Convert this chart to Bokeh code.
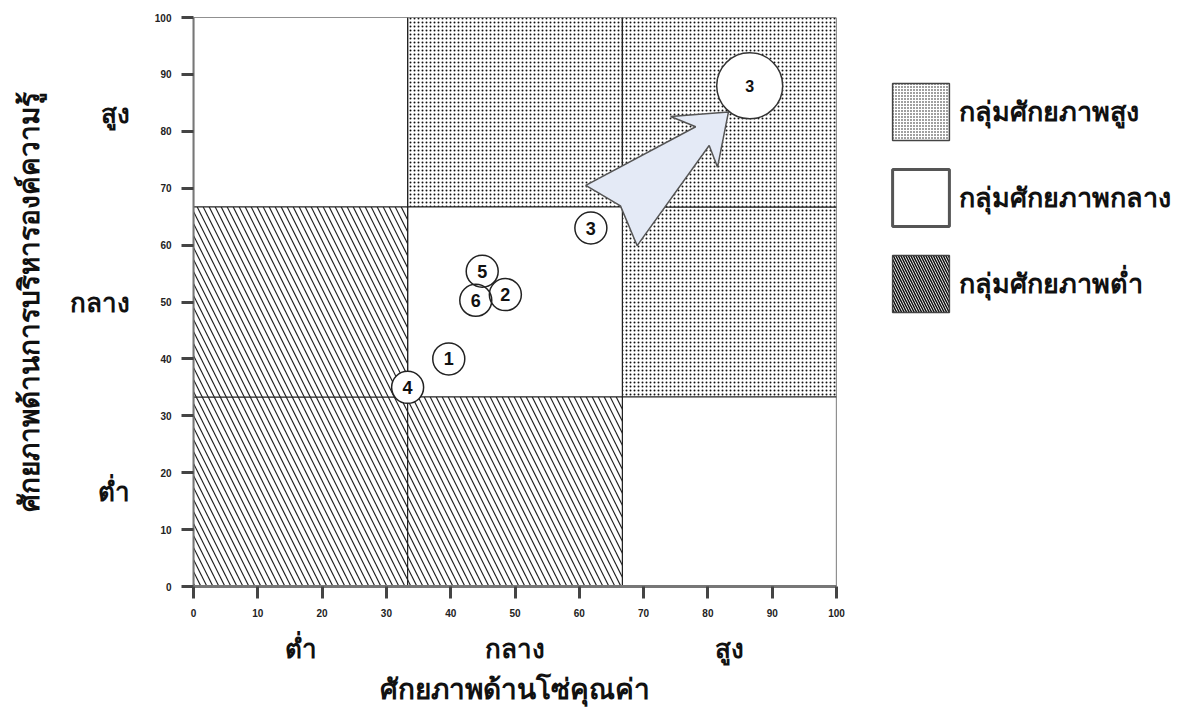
from bokeh.plotting import figure
from bokeh.layouts import row
from bokeh.models import LinearAxis, FixedTicker, Legend, LegendItem, ColumnDataSource, Range1d
from bokeh.embed import file_html
from bokeh.resources import INLINE
from bokeh.core.properties import value

# ---------------- data ----------------
# boundaries of the three levels on each axis
edges = [0, 33.3, 66.7, 100]
# level of each cell, row by row from the bottom (y) and left to right (x)
cell_levels = [
    ["low", "low", "medium"],
    ["low", "medium", "high"],
    ["medium", "high", "high"],
]
level_names = ["high", "medium", "low"]
legend_labels = ["กลุ่มศักยภาพสูง", "กลุ่มศักยภาพกลาง", "กลุ่มศักยภาพต่ำ"]

# numbered items (value-chain potential, knowledge-management potential)
point_labels = ["1", "2", "3", "4", "5", "6"]
point_x = [39.7, 48.5, 61.8, 33.3, 44.9, 43.9]
point_y = [40.0, 51.3, 63.0, 35.0, 55.4, 50.3]

# projected position of item 3
target_labels = ["3"]
target_x = [86.5]
target_y = [88.0]

# arrow outline (data coordinates)
arrow_x = [61.0, 78.1, 74.2, 83.2, 81.5, 80.2, 69.0, 66.4]
arrow_y = [70.5, 80.8, 82.6, 83.4, 73.7, 77.5, 59.9, 66.9]

tick_values = [0, 10, 20, 30, 40, 50, 60, 70, 80, 90, 100]
level_ticks = [16.7, 50, 83.3]
level_tick_labels = ["ต่ำ", "กลาง", "สูง"]

x_title = "ศักยภาพด้านโซ่คุณค่า"
y_title = "ศักยภาพด้านการบริหารองค์ความรู้"

THAI = "Noto Sans"

# ---------------- main figure ----------------
p = figure(frame_width=643, frame_height=569, x_range=Range1d(0, 100), y_range=Range1d(0, 100),
           output_backend="svg", toolbar_location=None,
           min_border_left=193, min_border_top=17, min_border_bottom=111, min_border_right=20)
p.grid.visible = False
p.outline_line_color = None
p.background_fill_color = "white"

# cells grouped by level
cells = {k: dict(left=[], right=[], bottom=[], top=[]) for k in level_names}
for r, row_levels in enumerate(cell_levels):
    for c, lev in enumerate(row_levels):
        cells[lev]["left"].append(edges[c])
        cells[lev]["right"].append(edges[c + 1])
        cells[lev]["bottom"].append(edges[r])
        cells[lev]["top"].append(edges[r + 1])
sources = {lev: ColumnDataSource(cells[lev]) for lev in level_names}

styles = {
    "high": dict(fill_color="white", hatch_pattern="dot", hatch_scale=4, hatch_weight=1,
                 hatch_color="#111", line_color="#222", line_width=1.2),
    "medium": dict(fill_color="white", line_color="#222", line_width=1.2),
    "low": dict(fill_color="white", hatch_pattern="left_diagonal_line", hatch_scale=12,
                hatch_weight=1.2, hatch_color="#222", line_color="#222", line_width=1.2),
}
for lev in level_names:
    p.quad(source=sources[lev], left="left", right="right", bottom="bottom", top="top",
           **styles[lev])

# arrow
p.patch(arrow_x, arrow_y, fill_color="#e4eaf6", line_color="#555", line_width=1.5)

# circles: fills first, then outlines so overlapping outlines stay visible
pts = ColumnDataSource(dict(x=point_x, y=point_y, label=point_labels))
tgt = ColumnDataSource(dict(x=target_x, y=target_y, label=target_labels))
p.scatter("x", "y", source=pts, size=32, fill_color="white", line_color=None)
p.scatter("x", "y", source=tgt, size=66, fill_color="white", line_color=None)
p.scatter("x", "y", source=pts, size=32, fill_color=None, line_color="#222", line_width=1.5)
p.scatter("x", "y", source=tgt, size=66, fill_color=None, line_color="#333", line_width=1.5)
p.text("x", "y", text="label", source=pts, text_align="center", text_baseline="middle",
       text_font=value("Liberation Sans"), text_font_size="18px", text_font_style="bold",
       text_color="#111")
p.text("x", "y", text="label", source=tgt, text_align="center", text_baseline="middle",
       text_font=value("Liberation Sans"), text_font_size="16px", text_font_style="bold",
       text_color="#111")

# numeric axes
for ax in (p.xaxis[0], p.yaxis[0]):
    ax.ticker = FixedTicker(ticks=tick_values)
    ax.axis_line_color = "#777"
    ax.axis_line_width = 3
    ax.major_tick_line_color = "#444"
    ax.major_tick_line_width = 3
    ax.major_tick_out = 12
    ax.major_tick_in = 0
    ax.minor_tick_line_color = None
    ax.major_label_text_font = "Liberation Sans"
    ax.major_label_text_font_size = "10px"
    ax.major_label_text_font_style = "bold"
    ax.major_label_text_color = "#222"
    ax.major_label_standoff = 10
p.yaxis[0].axis_line_width = 2

# level axes with titles
cat_x = LinearAxis(ticker=FixedTicker(ticks=level_ticks),
                   major_label_overrides=dict(zip(level_ticks, level_tick_labels)),
                   axis_line_color=None, major_tick_line_color=None, minor_tick_line_color=None,
                   major_label_standoff=4, axis_label=x_title, axis_label_standoff=0)
cat_y = LinearAxis(ticker=FixedTicker(ticks=level_ticks),
                   major_label_overrides=dict(zip(level_ticks, level_tick_labels)),
                   axis_line_color=None, major_tick_line_color=None, minor_tick_line_color=None,
                   major_label_standoff=16, axis_label=y_title, axis_label_standoff=20)
for ax in (cat_x, cat_y):
    ax.major_label_text_font = THAI
    ax.major_label_text_font_size = "26px"
    ax.major_label_text_font_style = "bold"
    ax.major_label_text_color = "#111"
    ax.axis_label_text_font = THAI
    ax.axis_label_text_font_size = "28px"
    ax.axis_label_text_font_style = "bold"
    ax.axis_label_text_color = "#111"
p.add_layout(cat_x, "below")
p.add_layout(cat_y, "left")

# ---------------- legend panel ----------------
lg = figure(width=319, height=697, x_range=Range1d(0, 1), y_range=Range1d(0, 1),
            output_backend="svg", toolbar_location=None,
            x_axis_location=None, y_axis_location=None,
            min_border_left=0, min_border_right=0, min_border_top=0, min_border_bottom=0)
lg.grid.visible = False
lg.outline_line_color = None

leg_styles = {
    "high": dict(fill_color="white", hatch_pattern="dot", hatch_scale=3, hatch_weight=1,
                 hatch_color="#111", line_color="#444", line_width=1.5),
    "medium": dict(fill_color="white", line_color="#555", line_width=3),
    "low": dict(fill_color="white", hatch_pattern="left_diagonal_line", hatch_scale=5,
                hatch_weight=1.5, hatch_color="#111", line_color="#444", line_width=1.5),
}
items = []
for lev, lab in zip(level_names, legend_labels):
    r = lg.quad(source=sources[lev], left="left", right="right", bottom="bottom", top="top",
                visible=False, **leg_styles[lev])
    items.append(LegendItem(label=lab, renderers=[r], index=0))
legend = Legend(items=items, location=(29, 255), glyph_width=71, glyph_height=71, spacing=15,
                padding=0, margin=0, label_standoff=3, border_line_color=None,
                background_fill_alpha=0, inactive_fill_alpha=0,
                label_text_font=THAI, label_text_font_size="27px",
                label_text_font_style="bold", label_text_color="#111")
lg.add_layout(legend, "center")

layout = row(p, lg)
open("out.html", "w").write(file_html(layout, INLINE))
